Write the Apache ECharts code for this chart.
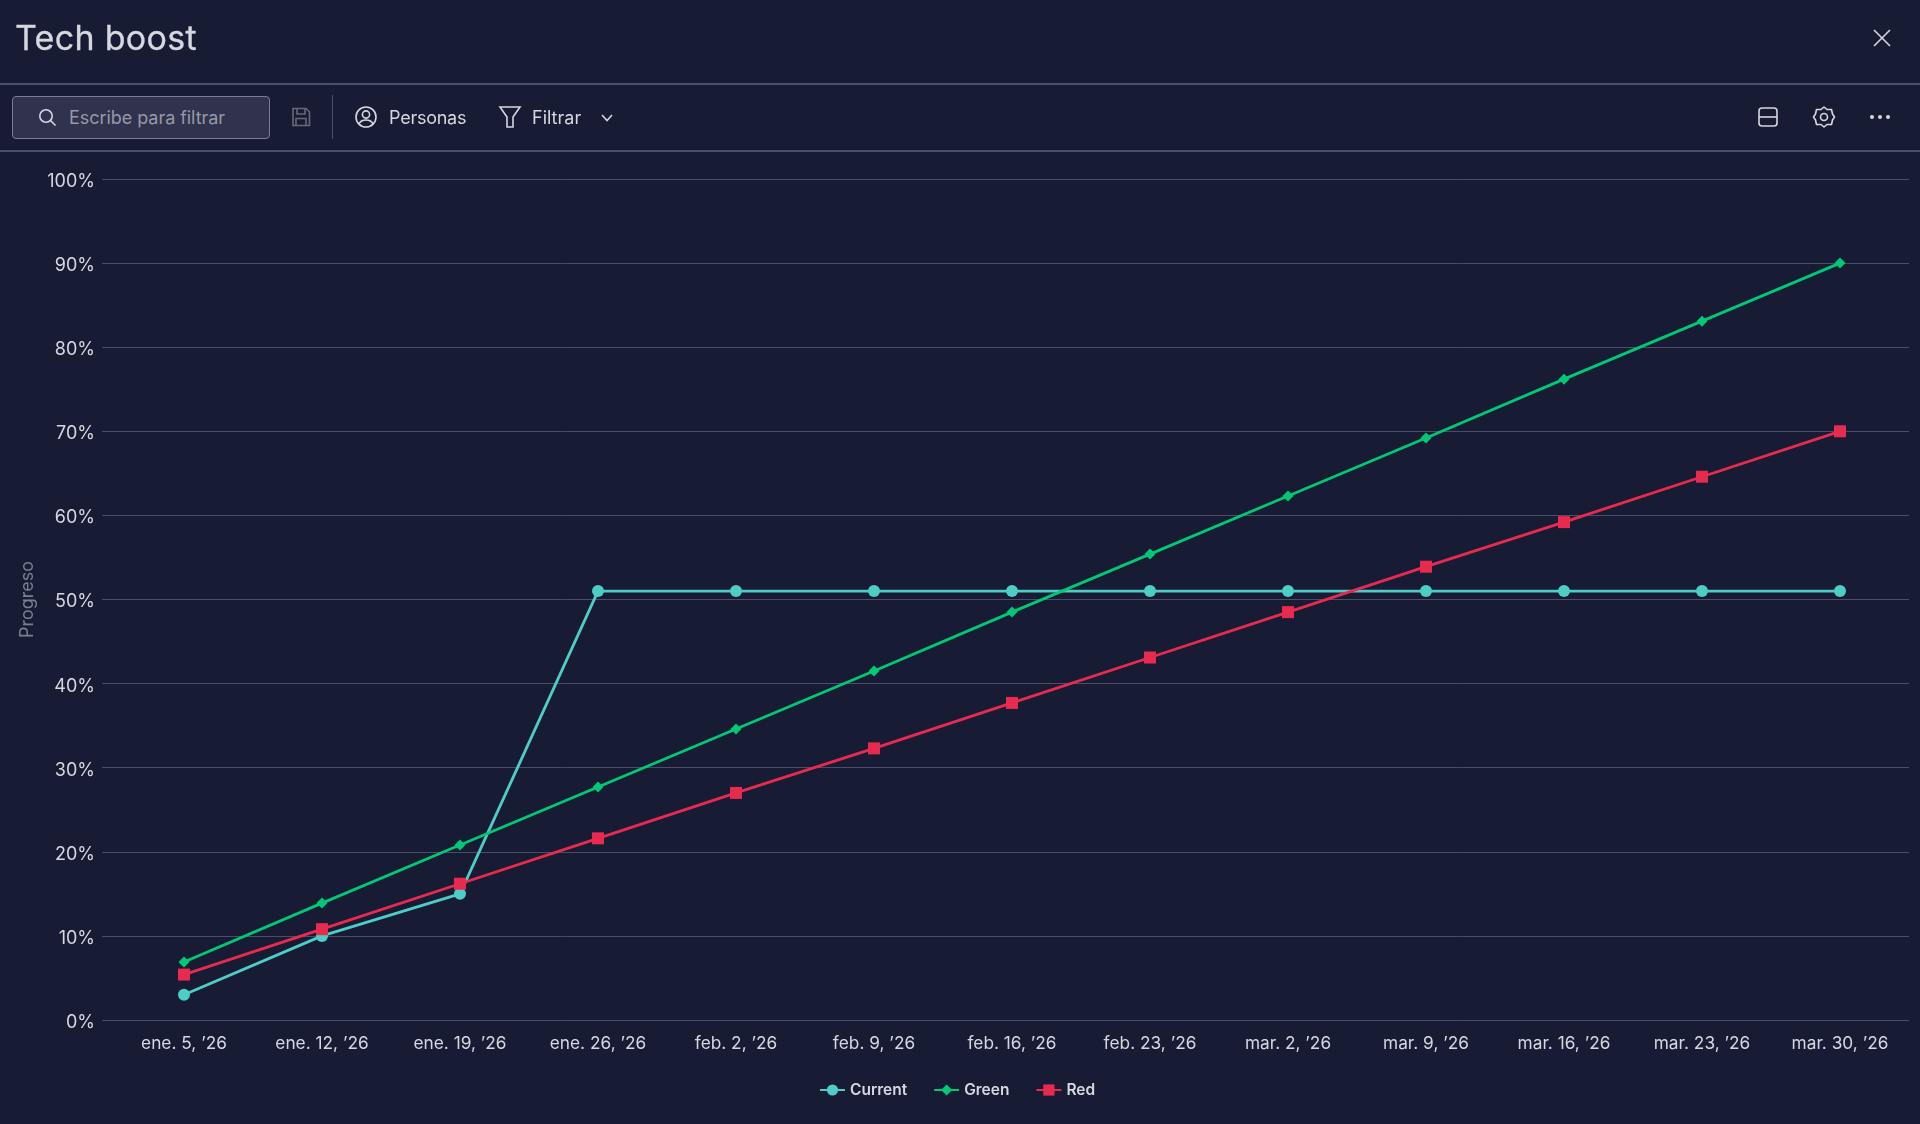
<!DOCTYPE html>
<html>
<head>
<meta charset="utf-8">
<title>Tech boost</title>
<script src="https://cdn.jsdelivr.net/npm/echarts@6/dist/echarts.min.js"></script>
<style>
  html, body { margin: 0; height: 100%; background: #181b34; overflow: hidden; }
  body { font-family: Inter, "Noto Sans", sans-serif; color: #d5d8df; }
  #chart { position: absolute; left: 0; top: 0; width: 1920px; height: 1124px; }
  .abs { position: absolute; }
  .title { left: 15px; top: 16px; font-size: 34px; line-height: 44px; font-weight: 400; color: #d5d8df; letter-spacing: 0.3px; -webkit-text-stroke: 0.3px #d5d8df; }
  .rule { left: 0; width: 1920px; height: 2px; background: #4b4e69; }
  .search { left: 12px; top: 96px; width: 258px; height: 43px; box-sizing: border-box; background: #30324e; border: 1px solid #797e93; border-radius: 4px; }
  .tool { font-size: 18px; line-height: 24px; top: 106px; color: #d5d8df; }
  svg { position: absolute; fill: none; stroke: #d5d8df; stroke-width: 1.6; }
</style>
</head>
<body>
<div id="chart"></div>

<!-- cabecera -->
<div class="abs title">Tech boost</div>
<svg style="left:1870px;top:26px" width="24" height="24" viewBox="0 0 24 24"><path d="M4 4L20 20M20 4L4 20"/></svg>
<div class="abs rule" style="top:83px"></div>
<div class="abs rule" style="top:150px"></div>

<!-- barra de herramientas -->
<div class="abs search"></div>
<svg style="left:36px;top:106px" width="22" height="22" viewBox="0 0 22 22" stroke-width="1.5"><circle cx="10" cy="10" r="6.2"/><path d="M14.5 14.5L19.5 19.5"/></svg>
<div class="abs tool" style="left:69px;color:#9699a6;letter-spacing:-0.05px">Escribe para filtrar</div>
<svg style="left:290px;top:106px;stroke:#676879" width="22" height="22" viewBox="0 0 22 22"><path d="M3 2.5H16L19.5 6V19.5H3Z"/><path d="M7 2.5V8H15V2.5M6 19.5V12.5H16V19.5"/></svg>
<div class="abs" style="left:332px;top:95px;width:1px;height:44px;background:#4b4e69"></div>
<svg style="left:354px;top:105px" width="24" height="24" viewBox="0 0 24 24"><circle cx="12" cy="12" r="10"/><circle cx="12" cy="9.5" r="3.6"/><path d="M5 19C6.5 15.5 9 15 12 15S17.5 15.5 19 19"/></svg>
<div class="abs tool" style="left:389px;letter-spacing:-0.25px">Personas</div>
<svg style="left:497px;top:104px" width="26" height="26" viewBox="0 0 26 26"><path d="M3 3H23L16 13V23H10V13Z"/></svg>
<div class="abs tool" style="left:532px">Filtrar</div>
<svg style="left:598px;top:111px" width="18" height="14" viewBox="0 0 18 14"><path d="M4 4L9 9.500L14 4"/></svg>
<svg style="left:1757px;top:106px" width="22" height="22" viewBox="0 0 22 22"><rect x="2" y="2" width="18" height="18" rx="3"/><path d="M2 11H20"/></svg>
<svg style="left:1812px;top:105px" width="24" height="24" viewBox="0 0 24 24"><path d="M12 2L15 4.500L19.500 4.500L20.500 9L22.500 12L20.500 15L19.500 19.500L15 19.500L12 22L9 19.500L4.500 19.500L3.500 15L1.500 12L3.500 9L4.500 4.500L9 4.500Z" stroke-linejoin="round"/><circle cx="12" cy="12" r="3.500"/></svg>
<svg style="left:1868px;top:110px;fill:#d5d8df;stroke:none" width="24" height="14" viewBox="0 0 24 14"><circle cx="4" cy="7" r="2"/><circle cx="12" cy="7" r="2"/><circle cx="20" cy="7" r="2"/></svg>

<script>
var categories = ["ene. 5, ’26", "ene. 12, ’26", "ene. 19, ’26", "ene. 26, ’26", "feb. 2, ’26", "feb. 9, ’26", "feb. 16, ’26", "feb. 23, ’26", "mar. 2, ’26", "mar. 9, ’26", "mar. 16, ’26", "mar. 23, ’26", "mar. 30, ’26"];
var current = [3, 10, 15, 51, 51, 51, 51, 51, 51, 51, 51, 51, 51];
var green = [6.9, 13.9, 20.8, 27.7, 34.6, 41.5, 48.5, 55.4, 62.3, 69.2, 76.2, 83.1, 90];
var red = [5.4, 10.8, 16.2, 21.6, 27, 32.3, 37.7, 43.1, 48.5, 53.9, 59.2, 64.6, 70];

var textColor = '#d5d8df';
var lineColor = '#4b4e69';
var font = 'Inter, "Noto Sans", sans-serif';

var myChart = echarts.init(document.getElementById('chart'));

function makeSeries(name, data, color, symbol, size) {
  return {
    name: name,
    type: 'line',
    data: data,
    symbol: symbol,
    symbolSize: size,
    showSymbol: true,
    animation: false,
    lineStyle: { color: color, width: 2.8 },
    itemStyle: { color: color }
  };
}

myChart.setOption({
  backgroundColor: 'transparent',
  animation: false,
  textStyle: { fontFamily: font },
  grid: { left: 115, right: 11, top: 179, bottom: 104 },
  legend: {
    data: ['Current', 'Green', 'Red'],
    left: 814,
    top: 1077,
    itemWidth: 25,
    itemHeight: 14,
    itemGap: 26,
    textStyle: { color: textColor, fontSize: 15.5, fontWeight: 600, fontFamily: font }
  },
  xAxis: {
    type: 'category',
    data: categories,
    boundaryGap: true,
    axisLine: { show: false },
    axisTick: { show: false },
    axisLabel: { color: textColor, fontSize: 17.3, margin: 15, interval: 0, fontFamily: font }
  },
  yAxis: {
    type: 'value',
    min: 0,
    max: 100,
    interval: 10,
    name: 'Progreso',
    nameLocation: 'middle',
    nameGap: 77,
    nameTextStyle: { color: '#797e93', fontSize: 18, fontFamily: font },
    axisLine: { show: false },
    axisTick: { show: true, length: 13, lineStyle: { color: lineColor, width: 1 } },
    // top + lineHeight bajo: el texto queda un poco por debajo de la línea, como en el original
    axisLabel: { color: textColor, fontSize: 18, margin: 20, verticalAlign: 'top', lineHeight: 5, formatter: '{value}%', fontFamily: font },
    splitLine: { lineStyle: { color: lineColor, width: 1 } }
  },
  series: [
    makeSeries('Current', current, '#4eccc6', 'circle', 12),
    makeSeries('Green', green, '#00c875', 'diamond', 11),
    makeSeries('Red', red, '#e72b4e', 'rect', 12)
  ]
});
</script>
</body>
</html>
